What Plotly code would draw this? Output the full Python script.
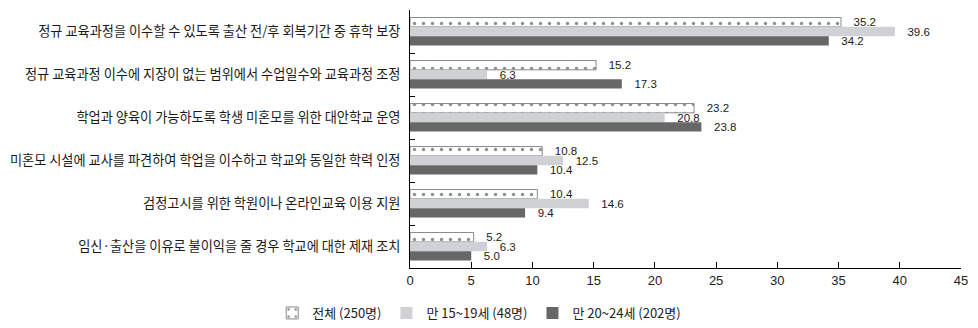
import plotly.graph_objects as go

categories = [
    "정규 교육과정을 이수할 수 있도록 출산 전/후 회복기간 중 휴학 보장",
    "정규 교육과정 이수에 지장이 없는 범위에서 수업일수와 교육과정 조정",
    "학업과 양육이 가능하도록 학생 미혼모를 위한 대안학교 운영",
    "미혼모 시설에 교사를 파견하여 학업을 이수하고 학교와 동일한 학력 인정",
    "검정고시를 위한 학원이나 온라인교육 이용 지원",
    "임신·출산을 이유로 불이익을 줄 경우 학교에 대한 제재 조치",
]
total_all = [35.2, 15.2, 23.2, 10.8, 10.4, 5.2]
age_15_19 = [39.6, 6.3, 20.8, 12.5, 14.6, 6.3]
age_20_24 = [34.2, 17.3, 23.8, 10.4, 9.4, 5.0]
series_names = ["전체 (250명)", "만 15~19세 (48명)", "만 20~24세 (202명)"]
x_ticks = [0, 5, 10, 15, 20, 25, 30, 35, 40, 45]

label_font = dict(family="Liberation Sans, Arial, sans-serif", size=11.5, color="#1a1a1a")

fig = go.Figure()
fig.add_trace(go.Bar(
    y=categories, x=total_all, name=series_names[0], orientation="h",
    marker=dict(color="white", line=dict(color="#8a8a8a", width=1),
                pattern=dict(shape=".", size=9, solidity=0.12, fgcolor="#222222",
                             bgcolor="white")),
    texttemplate="   %{x:.1f}", textposition="outside", textfont=label_font,
    constraintext="none", cliponaxis=False,
))
fig.add_trace(go.Bar(
    y=categories, x=age_15_19, name=series_names[1], orientation="h",
    marker=dict(color="#d0d1d5", line=dict(width=0)),
    texttemplate="   %{x:.1f}", textposition="outside", textfont=label_font,
    constraintext="none", cliponaxis=False,
))
fig.add_trace(go.Bar(
    y=categories, x=age_20_24, name=series_names[2], orientation="h",
    marker=dict(color="#676767", line=dict(width=0)),
    texttemplate="   %{x:.1f}", textposition="outside", textfont=label_font,
    constraintext="none", cliponaxis=False,
))

fig.update_layout(
    width=978, height=328,
    margin=dict(l=406, r=11, t=10, b=60),
    barmode="group", bargap=0.35, bargroupgap=0,
    plot_bgcolor="white", paper_bgcolor="white",
    font=dict(family="Noto Sans CJK KR, sans-serif", size=12, color="#222222"),
    showlegend=True,
    legend=dict(orientation="h", xref="container", x=0.49, xanchor="center",
                yref="container", y=-0.03, yanchor="bottom",
                font=dict(size=13, color="#222222"), itemwidth=30,
                traceorder="normal"),
)
fig.update_xaxes(
    range=[0, 45], tickvals=x_ticks, showgrid=False, zeroline=False,
    showline=True, linecolor="#000000", linewidth=1,
    ticks="inside", ticklen=6, tickcolor="#000000",
    tickfont=dict(family="Liberation Sans, Arial, sans-serif", size=13, color="#222222"),
)
fig.update_yaxes(
    autorange="reversed", showgrid=False, zeroline=False,
    showline=True, linecolor="#000000", linewidth=1,
    ticks="inside", ticklen=5, tickcolor="#000000", tickson="boundaries",
    tickfont=dict(size=13.2, color="#1a1a1a"), ticksuffix="  ",
)

fig.write_html("out.html")
